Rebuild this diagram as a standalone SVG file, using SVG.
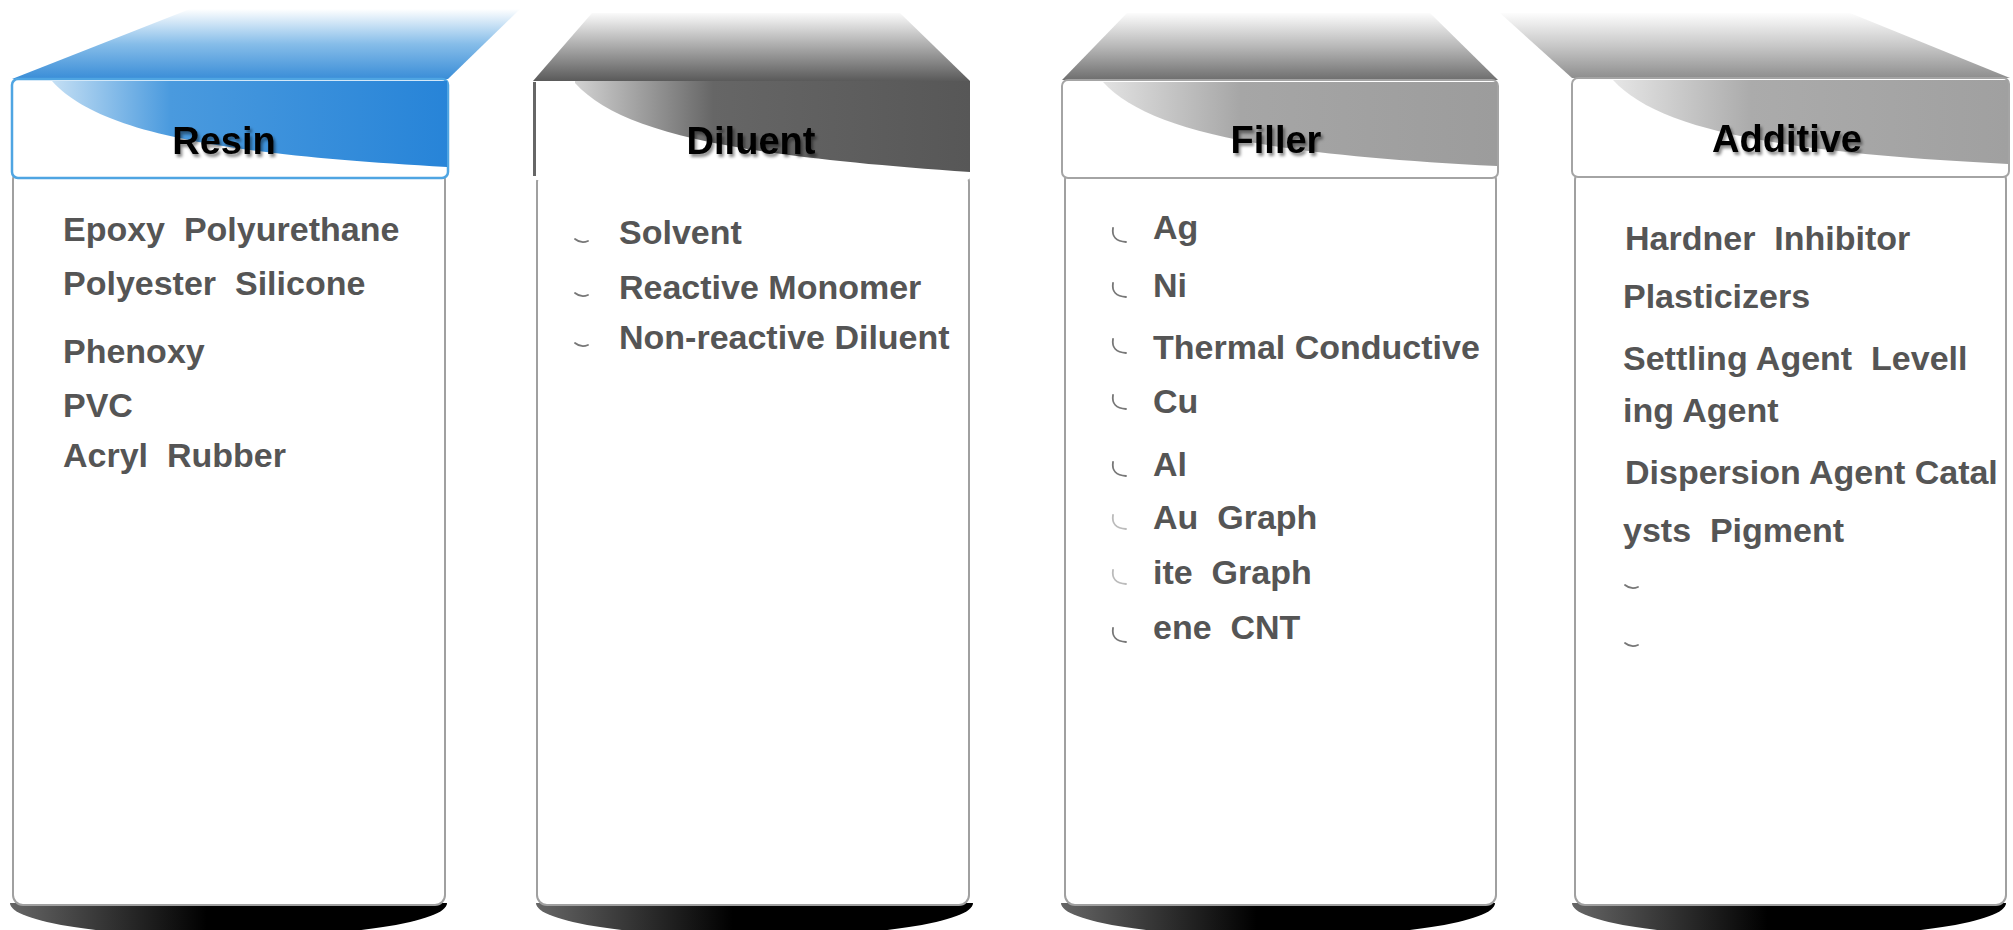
<svg xmlns="http://www.w3.org/2000/svg" width="2013" height="930" viewBox="0 0 2013 930">
  <style>
    .title { font-family: "Liberation Sans", Arial, sans-serif; font-weight: bold; font-size: 38px; fill: #000; text-anchor: middle; }
    .item { font-family: "Liberation Sans", Arial, sans-serif; font-weight: bold; font-size: 34px; fill: #555; white-space: pre; }
    .body { fill: #fff; stroke: #a0a0a0; stroke-width: 2; }
    .edge { stroke: #555; stroke-width: 3; fill: none; }
    .mark { fill: none; stroke: #777; stroke-width: 1.8; stroke-linecap: round; }
  </style>
  <defs>
    <filter id="txtShadow" x="-10%" y="-20%" width="130%" height="150%">
      <feDropShadow dx="2" dy="3" stdDeviation="1.6" flood-color="#000" flood-opacity="0.45"/>
    </filter>
    <filter id="soft" x="-50%" y="-5%" width="200%" height="110%">
      <feGaussianBlur stdDeviation="1"/>
    </filter>

    <!-- lids -->
    <linearGradient id="lidBlue" x1="0" y1="1" x2="0" y2="0">
      <stop offset="0" stop-color="#3a8dd7"/>
      <stop offset="0.5" stop-color="#86bde9"/>
      <stop offset="1" stop-color="#ffffff"/>
    </linearGradient>
    <linearGradient id="lidDark" x1="0" y1="1" x2="0" y2="0">
      <stop offset="0" stop-color="#5a5a5a"/>
      <stop offset="0.5" stop-color="#a9a9a9"/>
      <stop offset="1" stop-color="#fafafa"/>
    </linearGradient>
    <linearGradient id="lidMid" x1="0" y1="1" x2="0" y2="0">
      <stop offset="0" stop-color="#6e6e6e"/>
      <stop offset="0.5" stop-color="#b8b8b8"/>
      <stop offset="1" stop-color="#fcfcfc"/>
    </linearGradient>
    <linearGradient id="lidLight" x1="0" y1="1" x2="0" y2="0">
      <stop offset="0" stop-color="#8e8e8e"/>
      <stop offset="0.5" stop-color="#c8c8c8"/>
      <stop offset="1" stop-color="#fdfdfd"/>
    </linearGradient>

    <!-- header bands -->
    <linearGradient id="bandBlue" x1="0" y1="0" x2="1" y2="0">
      <stop offset="0" stop-color="#c4dff4"/>
      <stop offset="0.3" stop-color="#4a9ade"/>
      <stop offset="1" stop-color="#2784d8"/>
    </linearGradient>
    <linearGradient id="bandDark" x1="0" y1="0" x2="1" y2="0">
      <stop offset="0" stop-color="#d2d2d2"/>
      <stop offset="0.35" stop-color="#666"/>
      <stop offset="1" stop-color="#575757"/>
    </linearGradient>
    <linearGradient id="bandMid" x1="0" y1="0" x2="1" y2="0">
      <stop offset="0" stop-color="#e2e2e2"/>
      <stop offset="0.35" stop-color="#a6a6a6"/>
      <stop offset="1" stop-color="#9c9c9c"/>
    </linearGradient>
    <linearGradient id="bandLight" x1="0" y1="0" x2="1" y2="0">
      <stop offset="0" stop-color="#e6e6e6"/>
      <stop offset="0.35" stop-color="#ababab"/>
      <stop offset="1" stop-color="#a0a0a0"/>
    </linearGradient>

    <!-- rule under each header -->
    <linearGradient id="rule" x1="0" y1="0" x2="1" y2="0">
      <stop offset="0" stop-color="#000" stop-opacity="0"/>
      <stop offset="0.4" stop-color="#000"/>
      <stop offset="0.93" stop-color="#000"/>
      <stop offset="1" stop-color="#000" stop-opacity="0"/>
    </linearGradient>

    <!-- base shadow -->
    <linearGradient id="base" x1="0" y1="0" x2="1" y2="0">
      <stop offset="0" stop-color="#666"/>
      <stop offset="0.45" stop-color="#000"/>
      <stop offset="1" stop-color="#000"/>
    </linearGradient>

    <path id="smile" class="mark" d="M0,0 Q6,5 13,2"/>
    <path id="hook" class="mark" d="M1,0 Q-1,13 14,14"/>
  </defs>

  <rect width="2013" height="930" fill="#fff"/>

  <!-- Resin -->
  <g id="resin">
    <path d="M10,903 L447,903 A218.5 34 0 0 1 10,903 Z" fill="url(#base)"/>
    <rect class="body" x="13" y="170" width="432" height="735" rx="10"/>
    <line class="edge" x1="445" y1="182" x2="445" y2="896" filter="url(#soft)"/>
    <path d="M12,79 L190,9 L520,9 L448,79 Z" fill="url(#lidBlue)"/>
    <rect x="12" y="79" width="436" height="99" rx="6" fill="#fff" stroke="#4fa5e2" stroke-width="2.5"/>
    <path d="M52,81 C97,131 212,154 447,167 L447,81 Z" fill="url(#bandBlue)"/>
    <line x1="100" y1="177" x2="372" y2="177" stroke="url(#rule)" stroke-width="2.5"/>
    <text class="title" x="224" y="154" filter="url(#txtShadow)">Resin</text>
    <text class="item" x="63" y="241">Epoxy  Polyurethane</text>
    <text class="item" x="63" y="295">Polyester  Silicone</text>
    <text class="item" x="63" y="363">Phenoxy</text>
    <text class="item" x="63" y="417">PVC</text>
    <text class="item" x="63" y="467">Acryl  Rubber</text>
  </g>

  <!-- Diluent -->
  <g id="diluent">
    <path d="M536,903 L973,903 A218.5 34 0 0 1 536,903 Z" fill="url(#base)"/>
    <rect class="body" x="537" y="172" width="432" height="733" rx="10"/>
    <line class="edge" x1="969" y1="184" x2="969" y2="896" filter="url(#soft)"/>
    <path d="M533,81 L592,13 L900,13 L970,81 Z" fill="url(#lidDark)"/>
    <rect x="533" y="81" width="437" height="99" rx="4" fill="#fff"/>
    <path d="M575,83 C620,133 735,156 970,172 L970,81 L575,81 Z" fill="url(#bandDark)"/>
    <line x1="534.5" y1="82" x2="534.5" y2="176" stroke="#666" stroke-width="3"/>
    <line x1="623" y1="181" x2="897" y2="181" stroke="url(#rule)" stroke-width="2.5"/>
    <text class="title" x="751" y="154" filter="url(#txtShadow)">Diluent</text>
    <use href="#smile" x="575" y="239"/>
    <use href="#smile" x="575" y="293"/>
    <use href="#smile" x="575" y="343"/>
    <text class="item" x="619" y="244">Solvent</text>
    <text class="item" x="619" y="299">Reactive Monomer</text>
    <text class="item" x="619" y="349">Non-reactive Diluent</text>
  </g>

  <!-- Filler -->
  <g id="filler">
    <path d="M1061,903 L1495,903 A217 34 0 0 1 1061,903 Z" fill="url(#base)"/>
    <rect class="body" x="1065" y="170" width="431" height="735" rx="10"/>
    <line class="edge" x1="1496" y1="182" x2="1496" y2="896" filter="url(#soft)"/>
    <path d="M1062,80 L1127,13 L1430,13 L1498,80 Z" fill="url(#lidMid)"/>
    <rect x="1062" y="80" width="436" height="98" rx="6" fill="#fff" stroke="#a4a4a4" stroke-width="2"/>
    <path d="M1103,82 C1148,131 1262,154 1497,166 L1497,82 Z" fill="url(#bandMid)"/>
    <line x1="1150" y1="177" x2="1422" y2="177" stroke="url(#rule)" stroke-width="2.5"/>
    <text class="title" x="1276" y="153" filter="url(#txtShadow)">Filler</text>
    <use href="#hook" x="1112" y="228"/>
    <use href="#hook" x="1112" y="283"/>
    <use href="#hook" x="1112" y="339"/>
    <use href="#hook" x="1112" y="395"/>
    <use href="#hook" x="1112" y="462"/>
    <use href="#hook" x="1112" y="515" opacity="0.5"/>
    <use href="#hook" x="1112" y="570" opacity="0.5"/>
    <use href="#hook" x="1112" y="628"/>
    <text class="item" x="1153" y="239">Ag</text>
    <text class="item" x="1153" y="297">Ni</text>
    <text class="item" x="1153" y="359">Thermal Conductive</text>
    <text class="item" x="1153" y="413">Cu</text>
    <text class="item" x="1153" y="476">Al</text>
    <text class="item" x="1153" y="529">Au  Graph</text>
    <text class="item" x="1153" y="584">ite  Graph</text>
    <text class="item" x="1153" y="639">ene  CNT</text>
  </g>

  <!-- Additive -->
  <g id="additive">
    <path d="M1572,903 L2006,903 A217 34 0 0 1 1572,903 Z" fill="url(#base)"/>
    <rect class="body" x="1575" y="170" width="431" height="735" rx="10"/>
    <line class="edge" x1="2006" y1="182" x2="2006" y2="896" filter="url(#soft)"/>
    <path d="M1572,78 L1500,13 L1850,13 L2010,78 Z" fill="url(#lidLight)"/>
    <rect x="1572" y="78" width="437" height="99" rx="6" fill="#fff" stroke="#a4a4a4" stroke-width="2"/>
    <path d="M1613,80 C1658,129 1773,152 2008,164 L2008,80 Z" fill="url(#bandLight)"/>
    <line x1="1660" y1="176" x2="1922" y2="176" stroke="url(#rule)" stroke-width="2.5"/>
    <text class="title" x="1787" y="152" filter="url(#txtShadow)">Additive</text>
    <text class="item" x="1625" y="250">Hardner  Inhibitor</text>
    <text class="item" x="1623" y="308">Plasticizers</text>
    <text class="item" x="1623" y="370">Settling Agent  Levell</text>
    <text class="item" x="1623" y="422">ing Agent</text>
    <text class="item" x="1625" y="484">Dispersion Agent Catal</text>
    <text class="item" x="1623" y="542">ysts  Pigment</text>
    <use href="#smile" x="1625" y="585"/>
    <use href="#smile" x="1625" y="643"/>
  </g>
</svg>
